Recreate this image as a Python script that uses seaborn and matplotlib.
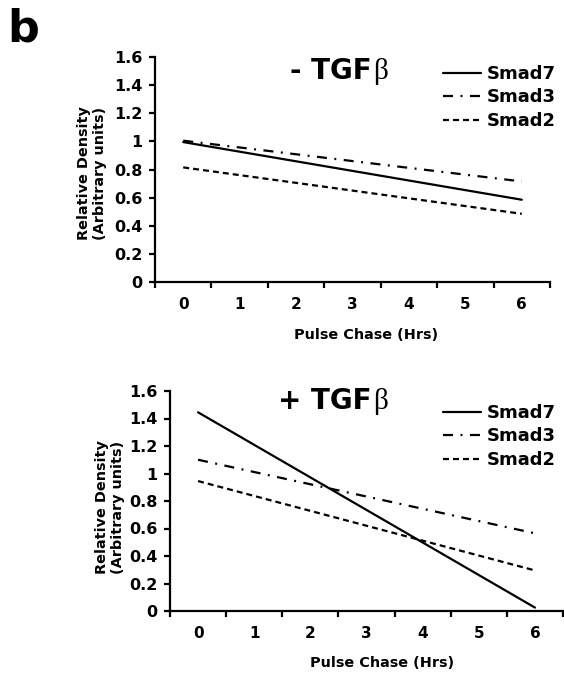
import matplotlib
matplotlib.use("Agg")
import matplotlib.pyplot as plt
import seaborn as sns
import pandas as pd
import numpy as np

# ---- data ----
hours = [0, 6]
proteins = ["Smad7", "Smad3", "Smad2"]
minus_smad7 = [0.995, 0.585]
minus_smad3 = [1.005, 0.715]
minus_smad2 = [0.815, 0.485]
plus_smad7 = [1.445, 0.025]
plus_smad3 = [1.100, 0.565]
plus_smad2 = [0.945, 0.295]
xtick_labels = ["0", "1", "2", "3", "4", "5", "6"]
ytick_values = [0, 0.2, 0.4, 0.6, 0.8, 1.0, 1.2, 1.4, 1.6]
ytick_labels = ["0", "0.2", "0.4", "0.6", "0.8", "1", "1.2", "1.4", "1.6"]
titles = ["- TGF", "+ TGF"]
beta = "β"
xlabel = "Pulse Chase (Hrs)"
ylabel = "Relative Density\n(Arbitrary units)"
panel_letter = "b"

def long_df(s7, s3, s2):
    rows = []
    for name, vals in zip(proteins, [s7, s3, s2]):
        for h, v in zip(hours, vals):
            rows.append({"hour": h, "density": v, "protein": name})
    return pd.DataFrame(rows)

df_minus = long_df(minus_smad7, minus_smad3, minus_smad2)
df_plus = long_df(plus_smad7, plus_smad3, plus_smad2)

sns.set_style("ticks")
plt.rcParams["font.family"] = ["DejaVu Sans"]
plt.rcParams["font.weight"] = "bold"
plt.rcParams["lines.scale_dashes"] = False
for k in ["text.color", "axes.labelcolor", "xtick.color", "ytick.color",
          "axes.edgecolor"]:
    plt.rcParams[k] = "black"

W, H = 564, 677
fig = plt.figure(figsize=(W / 100, H / 100), dpi=100)

def fx(px):
    return px / W

def fy(py):
    return 1 - py / H

# axes rectangles in pixel coords: left, right, top, bottom
rects = [(155, 550, 57, 282), (170, 563, 391, 611)]
dfs = [df_minus, df_plus]
dash_map = {"Smad7": "", "Smad3": (7.2, 5.4, 1.4, 5.4), "Smad2": (4.3, 2.9)}
title_pos = [(372, 79), (372, 409)]
legend_pos = [(443, 65), (443, 404)]
xlabel_pos = [(366, 335), (382, 663)]
ylabel_pos = [(92, 173), (110, 507)]

for i, (rect, df) in enumerate(zip(rects, dfs)):
    l, r, t, b = rect
    ax = fig.add_axes([fx(l), fy(b), fx(r) - fx(l), fy(t) - fy(b)])
    sns.lineplot(data=df, x="hour", y="density", style="protein",
                 style_order=proteins, dashes=dash_map, color="black",
                 linewidth=1.6, ax=ax, legend=True)
    ax.set_xlim(-0.5, 6.5)
    ax.set_ylim(0, 1.6)
    sns.despine(ax=ax)
    for sp in ["left", "bottom"]:
        ax.spines[sp].set_linewidth(1.6)
        ax.spines[sp].set_color("black")
    ax.set_xticks(range(7))
    ax.set_xticklabels(xtick_labels, fontsize=11, fontweight="bold")
    ax.set_xticks(np.arange(-0.5, 7.0, 1.0), minor=True)
    ax.tick_params(axis="x", which="major", length=0, pad=11)
    ax.tick_params(axis="x", which="minor", length=4, width=1.6,
                   direction="out", color="black")
    ax.set_yticks(ytick_values)
    ax.set_yticklabels(ytick_labels, fontsize=11.5, fontweight="bold")
    ax.tick_params(axis="y", length=4, width=1.6, direction="out",
                   pad=5, color="black")
    ax.set_xlabel("")
    ax.set_ylabel("")
    # axis labels as figure text
    fig.text(fx(xlabel_pos[i][0]), fy(xlabel_pos[i][1]), xlabel,
             ha="center", va="center", fontsize=10.4, fontweight="bold")
    fig.text(fx(ylabel_pos[i][0]), fy(ylabel_pos[i][1]), ylabel,
             ha="center", va="center", rotation=90, fontsize=10.4,
             fontweight="bold", linespacing=1.2, multialignment="center")
    # title
    tx, ty = title_pos[i]
    fig.text(fx(tx), fy(ty), titles[i], ha="right", va="baseline",
             fontsize=20, fontweight="bold")
    fig.text(fx(tx + 1), fy(ty), beta, ha="left", va="baseline",
             fontsize=21, fontweight="normal", family=["Liberation Serif"])
    # legend
    handles, labels = ax.get_legend_handles_labels()
    hl = [(h, lab) for h, lab in zip(handles, labels) if lab in proteins]
    leg = ax.legend([h for h, _ in hl], [lab for _, lab in hl],
                    loc="upper left",
                    bbox_to_anchor=(fx(legend_pos[i][0]), fy(legend_pos[i][1])),
                    bbox_transform=fig.transFigure, frameon=False,
                    borderpad=0, borderaxespad=0, handlelength=2.1,
                    handletextpad=0.3, labelspacing=0.3,
                    prop={"size": 13, "weight": "bold"})
    for line in leg.get_lines():
        line.set_linewidth(1.6)

fig.text(fx(7), fy(42), panel_letter, ha="left", va="baseline",
         fontsize=32, fontweight="bold")

fig.savefig("out.png", dpi=100)
